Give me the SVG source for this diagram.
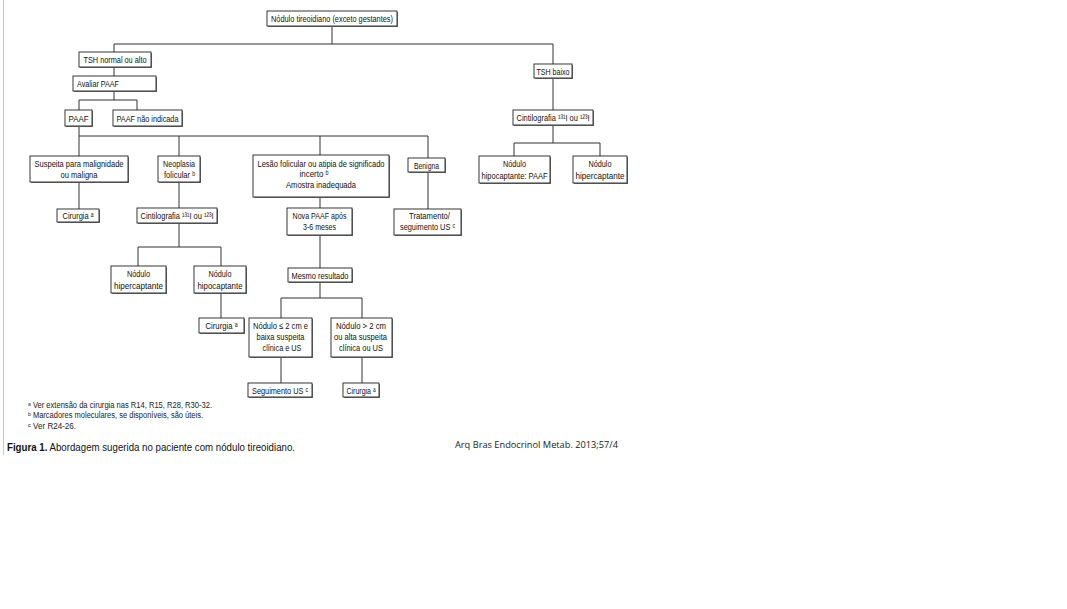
<svg xmlns="http://www.w3.org/2000/svg" width="1067" height="609" viewBox="0 0 1067 609">
<style>
.bx{fill:#fff;stroke:#222;stroke-width:0.9}
.sh{fill:#777}
.t{font-family:"Liberation Sans","DejaVu Sans",Arial,sans-serif;font-size:9.3px;fill:#111;text-anchor:middle}
.tl{font-family:"Liberation Sans","DejaVu Sans",Arial,sans-serif;font-size:9.3px;fill:#111}
.fn{font-family:"Liberation Sans","DejaVu Sans",Arial,sans-serif;font-size:8.5px;fill:#222}
.cap{font-family:"Liberation Sans",Arial,sans-serif;font-size:10.5px;fill:#111}
.ref{font-family:"Open Sans","Liberation Sans",sans-serif;font-size:8.5px;fill:#222}
.c{fill:none;stroke:#333;stroke-width:1}
</style>
<rect width="1067" height="609" fill="#fff"/>
<line x1="3.5" y1="0" x2="3.5" y2="455" stroke="#c8c8c8" stroke-width="1"/>

<g id="connectors">
<path class="c" d="M332,26V44M114,44H553M114,44V52M553,44V64"/>
<path class="c" d="M114,67V76M114,91V100M79,100H137M79,100V110M137,100V110"/>
<path class="c" d="M79,126V156M79,136H428M179,136V156M320,136V155M428,136V158"/>
<path class="c" d="M553,78V110M553,125V143M514,143H600M514,143V156M600,143V156"/>
<path class="c" d="M79,182V209M179,182V208M179,223V247M138,247H221M138,247V266M221,247V266M221,293V318"/>
<path class="c" d="M320,197V208M320,235V268M320,282V298M281,298H362M281,298V318M362,298V318M281,357V383M362,357V383"/>
<path class="c" d="M428,171V209"/>
</g>

<g id="n1"><rect class="sh" x="268" y="12" width="130" height="15"/><rect class="bx" x="267" y="11" width="130" height="15"/><text class="t" x="332" y="22" textLength="122" lengthAdjust="spacingAndGlyphs">Nódulo tireoidiano (exceto gestantes)</text></g>
<g id="n2"><rect class="sh" x="80" y="53" width="72" height="15"/><rect class="bx" x="79" y="52" width="72" height="15"/><text class="t" x="115" y="63" textLength="63" lengthAdjust="spacingAndGlyphs">TSH normal ou alto</text></g>
<g id="n3"><rect class="sh" x="74" y="77" width="83" height="15"/><rect class="bx" x="73" y="76" width="83" height="15"/><text class="tl" x="77" y="87" textLength="42" lengthAdjust="spacingAndGlyphs">Avaliar PAAF</text></g>
<g id="n4"><rect class="sh" x="66" y="111" width="27" height="16"/><rect class="bx" x="65" y="110" width="27" height="16"/><text class="t" x="78.5" y="121.5" textLength="20" lengthAdjust="spacingAndGlyphs">PAAF</text></g>
<g id="n5"><rect class="sh" x="114" y="111" width="69" height="16"/><rect class="bx" x="113" y="110" width="69" height="16"/><text class="t" x="147.5" y="121.5" textLength="62" lengthAdjust="spacingAndGlyphs">PAAF não indicada</text></g>
<g id="n6"><rect class="sh" x="535" y="65" width="38" height="14"/><rect class="bx" x="534" y="64" width="38" height="14"/><text class="t" x="553" y="74.5" textLength="33" lengthAdjust="spacingAndGlyphs">TSH baixo</text></g>
<g id="n7"><rect class="sh" x="514" y="111" width="80" height="15"/><rect class="bx" x="513" y="110" width="80" height="15"/><text class="t" x="553" y="121" textLength="73" lengthAdjust="spacingAndGlyphs">Cintilografia ¹³¹I ou ¹²³I</text></g>
<g id="n8"><rect class="sh" x="480" y="157" width="71" height="27"/><rect class="bx" x="479" y="156" width="71" height="27"/><text class="t" x="514.5" y="167" textLength="23" lengthAdjust="spacingAndGlyphs">Nódulo</text><text class="t" x="514.5" y="179" textLength="66" lengthAdjust="spacingAndGlyphs">hipocaptante: PAAF</text></g>
<g id="n9"><rect class="sh" x="574" y="157" width="54" height="27"/><rect class="bx" x="573" y="156" width="54" height="27"/><text class="t" x="600" y="167" textLength="23" lengthAdjust="spacingAndGlyphs">Nódulo</text><text class="t" x="600" y="179" textLength="49" lengthAdjust="spacingAndGlyphs">hipercaptante</text></g>
<g id="n10"><rect class="sh" x="31" y="157" width="98" height="26"/><rect class="bx" x="30" y="156" width="98" height="26"/><text class="t" x="79" y="167" textLength="89" lengthAdjust="spacingAndGlyphs">Suspeita para malignidade</text><text class="t" x="79" y="178" textLength="37" lengthAdjust="spacingAndGlyphs">ou maligna</text></g>
<g id="n11"><rect class="sh" x="159" y="157" width="42" height="26"/><rect class="bx" x="158" y="156" width="42" height="26"/><text class="t" x="179" y="167" textLength="32" lengthAdjust="spacingAndGlyphs">Neoplasia</text><text class="t" x="179.5" y="178" textLength="31" lengthAdjust="spacingAndGlyphs">folicular ᵇ</text></g>
<g id="n12"><rect class="sh" x="254" y="156" width="136" height="42"/><rect class="bx" x="253" y="155" width="136" height="42"/><text class="t" x="321" y="167" textLength="127" lengthAdjust="spacingAndGlyphs">Lesão folicular ou atipia de significado</text><text class="t" x="314" y="177" textLength="29" lengthAdjust="spacingAndGlyphs">incerto ᵇ</text><text class="t" x="321" y="187.5" textLength="70" lengthAdjust="spacingAndGlyphs">Amostra inadequada</text></g>
<g id="n13"><rect class="sh" x="409" y="159" width="37" height="14"/><rect class="bx" x="408" y="158" width="37" height="14"/><text class="t" x="426.5" y="168.5" textLength="25" lengthAdjust="spacingAndGlyphs">Benigna</text></g>
<g id="n14"><rect class="sh" x="58" y="210" width="42" height="13"/><rect class="bx" x="57" y="209" width="42" height="13"/><text class="t" x="78" y="219" textLength="31" lengthAdjust="spacingAndGlyphs">Cirurgia ᵃ</text></g>
<g id="n15"><rect class="sh" x="138" y="209" width="80" height="15"/><rect class="bx" x="137" y="208" width="80" height="15"/><text class="t" x="177" y="219" textLength="73" lengthAdjust="spacingAndGlyphs">Cintilografia ¹³¹I ou ¹²³I</text></g>
<g id="n16"><rect class="sh" x="112" y="267" width="55" height="27"/><rect class="bx" x="111" y="266" width="55" height="27"/><text class="t" x="138.5" y="277" textLength="23" lengthAdjust="spacingAndGlyphs">Nódulo</text><text class="t" x="138.5" y="289" textLength="49" lengthAdjust="spacingAndGlyphs">hipercaptante</text></g>
<g id="n17"><rect class="sh" x="195" y="267" width="52" height="27"/><rect class="bx" x="194" y="266" width="52" height="27"/><text class="t" x="220" y="277" textLength="23" lengthAdjust="spacingAndGlyphs">Nódulo</text><text class="t" x="220" y="289" textLength="45" lengthAdjust="spacingAndGlyphs">hipocaptante</text></g>
<g id="n18"><rect class="sh" x="200" y="319" width="45" height="15"/><rect class="bx" x="199" y="318" width="45" height="15"/><text class="t" x="221.5" y="329" textLength="32" lengthAdjust="spacingAndGlyphs">Cirurgia ᵃ</text></g>
<g id="n19"><rect class="sh" x="288" y="209" width="65" height="27"/><rect class="bx" x="287" y="208" width="65" height="27"/><text class="t" x="319.5" y="219" textLength="54" lengthAdjust="spacingAndGlyphs">Nova PAAF após</text><text class="t" x="319.5" y="230" textLength="33" lengthAdjust="spacingAndGlyphs">3-6 meses</text></g>
<g id="n20"><rect class="sh" x="395" y="210" width="67" height="26"/><rect class="bx" x="394" y="209" width="67" height="26"/><text class="t" x="429.5" y="219" textLength="41" lengthAdjust="spacingAndGlyphs">Tratamento/</text><text class="t" x="427.5" y="230" textLength="55" lengthAdjust="spacingAndGlyphs">seguimento US ᶜ</text></g>
<g id="n21"><rect class="sh" x="289" y="269" width="64" height="14"/><rect class="bx" x="288" y="268" width="64" height="14"/><text class="t" x="320" y="278.5" textLength="57" lengthAdjust="spacingAndGlyphs">Mesmo resultado</text></g>
<g id="n22"><rect class="sh" x="250" y="319" width="63" height="39"/><rect class="bx" x="249" y="318" width="63" height="39"/><text class="t" x="280.5" y="329" textLength="55" lengthAdjust="spacingAndGlyphs">Nódulo ≤ 2 cm e</text><text class="t" x="280.5" y="340" textLength="48" lengthAdjust="spacingAndGlyphs">baixa suspeita</text><text class="t" x="282" y="351" textLength="39" lengthAdjust="spacingAndGlyphs">clínica e US</text></g>
<g id="n23"><rect class="sh" x="332" y="319" width="61" height="39"/><rect class="bx" x="331" y="318" width="61" height="39"/><text class="t" x="361" y="329" textLength="50" lengthAdjust="spacingAndGlyphs">Nódulo &gt; 2 cm</text><text class="t" x="360.5" y="340" textLength="53" lengthAdjust="spacingAndGlyphs">ou alta suspeita</text><text class="t" x="361" y="351" textLength="44" lengthAdjust="spacingAndGlyphs">clínica ou US</text></g>
<g id="n24"><rect class="sh" x="249" y="384" width="64" height="14"/><rect class="bx" x="248" y="383" width="64" height="14"/><text class="t" x="280" y="393.5" textLength="56" lengthAdjust="spacingAndGlyphs">Seguimento US ᶜ</text></g>
<g id="n25"><rect class="sh" x="344" y="384" width="36" height="14"/><rect class="bx" x="343" y="383" width="36" height="14"/><text class="t" x="361" y="393.5" textLength="29" lengthAdjust="spacingAndGlyphs">Cirurgia ᵃ</text></g>

<g id="footnotes">
<text class="fn" x="28" y="408" textLength="184" lengthAdjust="spacingAndGlyphs">ᵃ Ver extensão da cirurgia nas R14, R15, R28, R30-32.</text>
<text class="fn" x="28" y="418" textLength="175" lengthAdjust="spacingAndGlyphs">ᵇ Marcadores moleculares, se disponíveis, são úteis.</text>
<text class="fn" x="28" y="429" textLength="48" lengthAdjust="spacingAndGlyphs">ᶜ Ver R24-26.</text>
<text class="cap" x="7" y="451" textLength="288" lengthAdjust="spacingAndGlyphs"><tspan font-weight="bold">Figura 1.</tspan> Abordagem sugerida no paciente com nódulo tireoidiano.</text>
<text class="ref" x="455" y="448" textLength="163" lengthAdjust="spacingAndGlyphs">Arq Bras Endocrinol Metab. 2013;57/4</text>
</g>
</svg>
